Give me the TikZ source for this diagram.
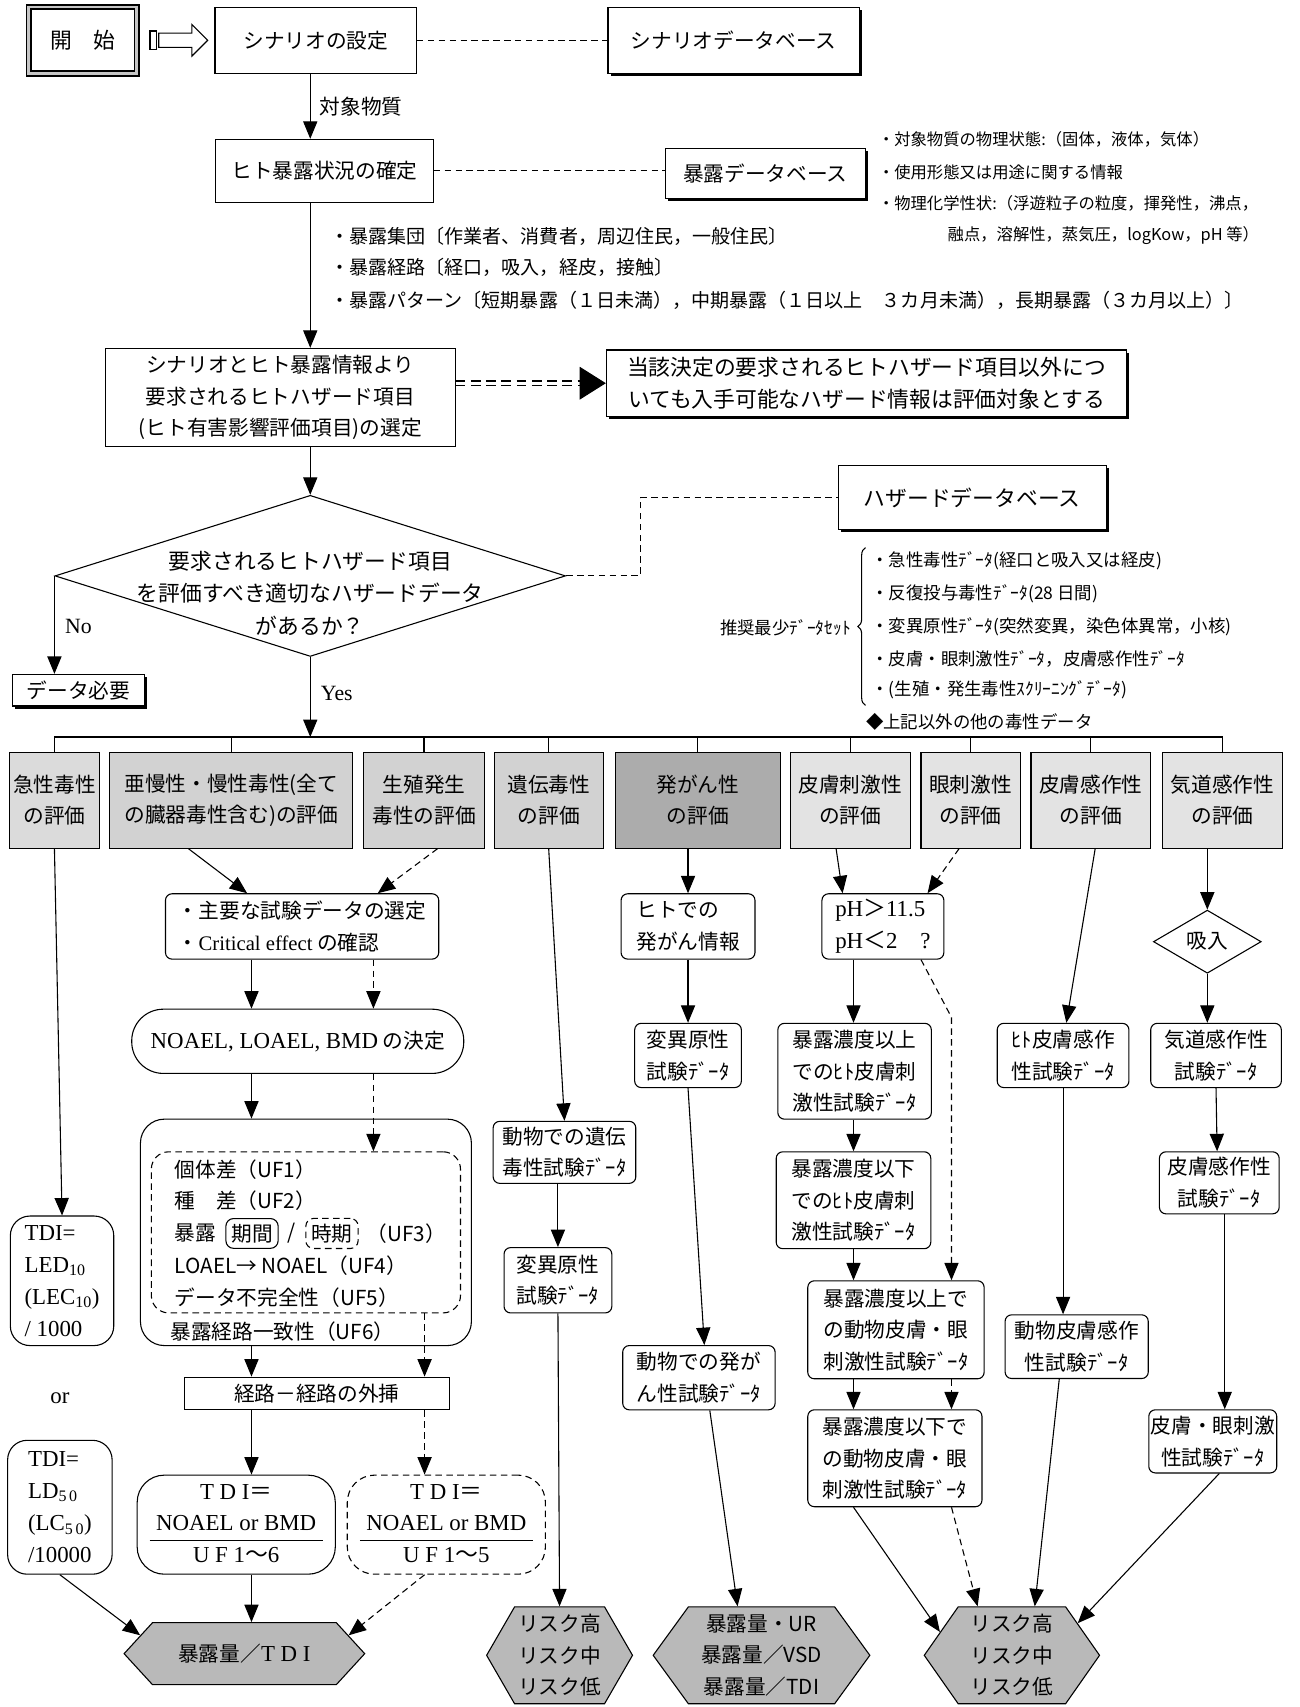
\documentclass[tikz,border=0pt]{standalone}
\usepackage{fontspec}
\setmainfont{Noto Sans CJK JP}
\newfontfamily\lat{Liberation Serif}
\newcommand\setfs[2]{\fontsize{#1}{#2}\selectfont}
\usetikzlibrary{positioning,arrows.meta,shapes.geometric,shapes.symbols,shapes.arrows,shadows,decorations.pathreplacing}

\begin{document}
\begin{tikzpicture}[x=1pt,y=-1pt,line width=1pt,
    >={Triangle[length=16pt,width=13pt]},
    font=\setfs{19}{29},
    dsh/.style={dash pattern=on 6pt off 4pt},
    wh/.style 2 args={minimum width=#1pt,minimum height=#2pt},
    sqbox/.style={draw,rectangle,inner sep=0pt,align=center},
    shadowbox/.style={sqbox,fill=white,drop shadow={shadow xshift=2.5pt,shadow yshift=-2.5pt,fill=black,opacity=1}},
    rbox/.style={sqbox,rounded corners=6pt},
    hexa/.style={draw,signal,signal to=west and east,inner sep=0pt,align=center,fill=gray!55},
    txt/.style={inner sep=0pt,anchor=west}]
  \useasboundingbox (0,0) rectangle (1194,1568);
  \coordinate (spine) at (285,0);
  \coordinate (bus) at (0,677);
  \coordinate (lnA) at (231,0);
  \coordinate (lnB) at (343,0);
  \coordinate (lnC) at (390,0);
  \coordinate (lnD) at (784,0);
  \coordinate (lnE) at (874,0);

  % scenario and exposure
  \node[sqbox,wh={99}{61},line width=1.6pt,double=gray!45,double distance=2.5pt,font=\setfs{20}{24}] (start) at (76,37) {開　始};
  \node[sqbox,wh={6}{17},fill=white,right=11pt of start] (gotail) {};
  \node[single arrow,draw,fill=white,inner sep=6pt,minimum height=45pt,single arrow head extend=8pt,right=1pt of gotail] (go) {};
  \node[sqbox,wh={185}{61}] (set) at (290,37) {シナリオの設定};
  \node[shadowbox,wh={231}{61}] (scendb) at (674,37) {シナリオデータベース};
  \node[sqbox,wh={200}{58}] (conf) at (298,157) {ヒト暴露状況の確定};
  \node[shadowbox,wh={184}{46}] (expdb) at (703,159) {暴露データベース};
  \draw[->] (set.south -| spine) -- (conf.north -| spine) node[midway,right=5pt] (tgt) {対象物質};
  \draw[dsh] (set.east) -- (scendb.west);
  \draw[dsh] (conf.east) -- (conf.east -| expdb.west);
  \foreach \i/\xx/\yy/\lbl in {1/806/128/{・対象物質の物理状態:（固体，液体，気体）},
      2/806/158/{・使用形態又は用途に関する情報},
      3/806/187/{・物理化学性状:（浮遊粒子の粒度，揮発性，沸点，},
      4/870/216/{融点，溶解性，蒸気圧，logKow，pH 等）}}
    \node[txt,font=\setfs{15}{18}] (phy\i) at (\xx,\yy) {\lbl};
  \foreach \i/\yy/\lbl in {1/217/{・暴露集団〔作業者、消費者，周辺住民，一般住民〕},
      2/246/{・暴露経路〔経口，吸入，経皮，接触〕},
      3/276/{・暴露パターン〔短期暴露（１日未満），中期暴露（１日以上　３カ月未満），長期暴露（３カ月以上）〕}}
    \node[txt,font=\setfs{17.5}{20}] (pat\i) at (303,\yy) {\lbl};

  % selection and decision
  \node[sqbox,wh={321}{90}] (sel) at (257.5,365) {シナリオとヒト暴露情報より\\要求されるヒトハザード項目\\(ヒト有害影響評価項目)の選定};
  \node[shadowbox,wh={478}{61},font=\setfs{20}{29}] (tou) at (796,352) {当該決定の要求されるヒトハザード項目以外につ\\いても入手可能なハザード情報は評価対象とする};
  \draw[->] (conf.south -| spine) -- (sel.north -| spine);
  \draw[double,double distance=3pt,dash pattern=on 9pt off 5pt] (sel.east |- tou.west) -- ([xshift=-22pt]tou.west);
  \draw[-{Triangle[length=24pt,width=30pt]}] ([xshift=-24pt]tou.west) -- (tou.west);
  \node[diamond,draw,wh={469}{148},inner sep=0pt] (dq) at (285,529) {};
  \node[align=center,font=\setfs{20}{30}] (dqtxt) at (285,545) {要求されるヒトハザード項目\\を評価すべき適切なハザードデータ\\があるか？};
  \draw[->] (sel.south -| spine) -- (dq.north);
  \node[shadowbox,wh={246}{59},font=\setfs{20}{24}] (hazdb) at (893,457) {ハザードデータベース};
  \draw[dsh] (dq.east) -- ++(68,0) |- (hazdb.west);
  \node[inner sep=0pt,anchor=east,font=\setfs{16}{20}] (recset) at (782,577) {推奨最少ﾃﾞｰﾀｾｯﾄ};
  \foreach \i/\yy/\lbl in {1/515/{・急性毒性ﾃﾞｰﾀ(経口と吸入又は経皮)},
      2/545/{・反復投与毒性ﾃﾞｰﾀ(28 日間)},
      3/576/{・変異原性ﾃﾞｰﾀ(突然変異，染色体異常，小核)},
      4/605/{・皮膚・眼刺激性ﾃﾞｰﾀ，皮膚感作性ﾃﾞｰﾀ},
      5/634/{・(生殖・発生毒性ｽｸﾘｰﾆﾝｸﾞﾃﾞｰﾀ)}}
    \node[txt,font=\setfs{16}{20}] (rs\i) at (800,\yy) {\lbl};
  \node[txt,font=\setfs{16}{20}] (other) at (795,663) {◆上記以外の他の毒性データ};
  \draw[decorate,decoration={brace,amplitude=7pt}] (795,648) -- (795,503);
  \node[shadowbox,wh={121}{29}] (nodata) at (72,634) {データ必要};
  \draw[->] (dq.west) -- (dq.west |- nodata.north) node[pos=0.52,right=6pt,font=\lat\setfs{20}{24}] (no) {No};
  \draw[->] (dq.south) -- (dq.south |- bus) node[pos=0.45,right=6pt,font=\lat\setfs{20}{24}] (yes) {Yes};

  % evaluation items
  \foreach \i/\xx/\w/\cc/\lbl in {1/50/82/28/{急性毒性\\の評価},
      2/212.5/223/35/{亜慢性・慢性毒性(全て\\の臓器毒性含む)の評価},
      3/389.5/111/35/{生殖発生\\毒性の評価},
      4/504/100/35/{遺伝毒性\\の評価},
      5/641/152/65/{発がん性\\の評価},
      6/781/110/22/{皮膚刺激性\\の評価},
      7/891.5/91/22/{眼刺激性\\の評価},
      8/1002/110/22/{皮膚感作性\\の評価},
      9/1123/110/22/{気道感作性\\の評価}}
    \node[sqbox,wh={\w}{88},fill=gray!\cc] (ev\i) at (\xx,735) {\lbl};
  \draw (ev1.north |- bus) -- (ev9.north |- bus);
  \foreach \i in {1,...,9}
    \draw (ev\i.north |- bus) -- (ev\i.north);

  % general toxicity
  \node[rbox,wh={251}{60},align=left] (crit) at (277.5,851) {・主要な試験データの選定\\・{\lat Critical effect} の確認};
  \draw[->] ([xshift=-39.5]ev2.south) -- ([xshift=-50.5]crit.north);
  \draw[->,dsh] ([xshift=12.5]ev3.south) -- ([xshift=69.5]crit.north);
  \node[sqbox,wh={305}{59},rounded corners=29pt] (noael) at (273.5,956.5) {{\lat\setfs{21}{29}NOAEL, LOAEL, BMD} の決定};
  \draw[->] (crit.south -| lnA) -- (noael.north -| lnA);
  \draw[->,dsh] (crit.south -| lnB) -- (noael.north -| lnB);
  \node[sqbox,wh={304}{208},rounded corners=22pt] (ufbox) at (281,1132) {};
  \node[sqbox,dsh,wh={284}{148},rounded corners=16pt] (ufin) at (281,1132) {};
  \draw[->] (noael.south -| lnA) -- (ufbox.north -| lnA);
  \draw[->,dsh] (noael.south -| lnB) -- (ufin.north -| lnB);
  \node[txt] (uf1) at (160,1074) {個体差（UF1）};
  \node[txt] (uf2) at (160,1103) {種　差（UF2）};
  \node[txt] (uf3) at (160,1133) {暴露};
  \node[draw,rounded corners=7pt,inner xsep=5pt,inner ysep=5pt,right=8pt of uf3] (kikan) {期間};
  \node[inner sep=0pt,right=8pt of kikan] (slash) {/};
  \node[draw,dsh,rounded corners=7pt,inner xsep=5pt,inner ysep=5pt,right=8pt of slash] (jiki) {時期};
  \node[inner sep=0pt,right=7pt of jiki] (uf3b) {（UF3）};
  \node[txt] (uf4) at (160,1163) {LOAEL→ NOAEL（UF4）};
  \node[txt] (uf5) at (160,1192) {データ不完全性（UF5）};
  \node[txt] (uf6) at (156,1223) {暴露経路一致性（UF6）};
  \node[sqbox,wh={243}{30}] (route) at (291,1280) {経路－経路の外挿};
  \draw[->] (ufbox.south -| lnA) -- (route.north -| lnA);
  \draw[->,dsh] (ufin.south -| lnC) -- (route.north -| lnC);
  \node[sqbox,wh={182}{91},rounded corners=25pt,font=\lat\setfs{21}{29}] (tdi1) at (217,1400.5)
    {\begin{tabular}{@{\hspace{6pt}}c@{\hspace{6pt}}}T D I{\rmfamily ＝}\\NOAEL or BMD\\\hline U F 1{\rmfamily ～}6\end{tabular}};
  \node[sqbox,dsh,wh={182}{91},rounded corners=25pt,font=\lat\setfs{21}{29}] (tdi2) at (410,1400.5)
    {\begin{tabular}{@{\hspace{6pt}}c@{\hspace{6pt}}}T D I{\rmfamily ＝}\\NOAEL or BMD\\\hline U F 1{\rmfamily ～}5\end{tabular}};
  \draw[->] (route.south -| lnA) -- (tdi1.north -| lnA);
  \draw[->,dsh] (route.south -| lnC) -- (tdi2.north -| lnC);

  % acute toxicity
  \node[sqbox,wh={95}{119},rounded corners=18pt,align=left,font=\lat\setfs{21}{29.5}] (led) at (57,1176.5)
    {TDI=\\LED\textsubscript{10}\\(LEC\textsubscript{10})\\/ 1000};
  \node[font=\lat\setfs{21}{24}] (ornode) at (55,1284) {or};
  \node[sqbox,wh={96}{123},rounded corners=18pt,align=left,font=\lat\setfs{21}{29.5}] (ld) at (55,1384.5)
    {TDI=\\LD\textsubscript{5\,0}\\(LC\textsubscript{5\,0})\\/10000};
  \draw[->] (ev1.south) -- (led.north);
  \node[hexa,wh={221}{57},signal pointer angle=95] (hex1) at (224.5,1519) {暴露量／{\lat\setfs{21}{24}T D I}};
  \draw[->] (ld.south) -- (hex1.170);
  \draw[->] (tdi1.south -| lnA) -- (hex1.north -| lnA);
  \draw[->,dsh] (tdi2.south -| lnC) -- (hex1.10);

  % genotoxicity
  \node[rbox,wh={131}{57}] (gen1) at (518.5,1058.5) {動物での遺伝\\毒性試験ﾃﾞｰﾀ};
  \node[rbox,wh={99}{60}] (gen2) at (512.5,1176) {変異原性\\試験ﾃﾞｰﾀ};
  \node[hexa,wh={134}{89},signal pointer angle=120] (hex2) at (514,1520.5) {リスク高\\リスク中\\リスク低};
  \draw[->] (ev4.south) -- (gen1.north);
  \draw[->] (gen2.north |- gen1.south) -- (gen2.north);
  \draw[->] (gen2.south) -- (hex2.north);

  % carcinogenicity
  \node[rbox,wh={123}{60},align=left] (hum) at (632,851) {ヒトでの\\発がん情報};
  \node[rbox,wh={98}{59}] (mut) at (632,969.5) {変異原性\\試験ﾃﾞｰﾀ};
  \node[rbox,wh={140}{59}] (anim) at (642,1265.5) {動物での発が\\ん性試験ﾃﾞｰﾀ};
  \node[hexa,wh={199}{89},signal pointer angle=108] (hexur) at (699.5,1520.5) {暴露量・UR\\暴露量／VSD\\暴露量／TDI};
  \draw[->] (ev5.south -| hum.north) -- (hum.north);
  \draw[->] (hum.south) -- (mut.north);
  \draw[->] (mut.south) -- ([xshift=5]anim.north);
  \draw[->] ([xshift=10]anim.south) -- ([xshift=-22]hexur.north);

  % skin and eye irritation
  \node[rbox,wh={112}{60},align=left,font=\lat\setfs{21}{29}] (ph) at (811,851) {pH{\rmfamily ＞}11.5\\pH{\rmfamily ＜}2\quad ?};
  \draw[->] ([xshift=-13]ev6.south) -- ([xshift=-37]ph.north);
  \draw[->,dsh] ([xshift=-10.5]ev7.south) -- ([xshift=41]ph.north);
  \node[rbox,wh={141}{88}] (hsk1) at (785,984) {暴露濃度以上\\でのﾋﾄ皮膚刺\\激性試験ﾃﾞｰﾀ};
  \node[rbox,wh={142}{89}] (hsk2) at (784,1102.5) {暴露濃度以下\\でのﾋﾄ皮膚刺\\激性試験ﾃﾞｰﾀ};
  \node[rbox,wh={162}{90}] (ask1) at (823,1221.5) {暴露濃度以上で\\の動物皮膚・眼\\刺激性試験ﾃﾞｰﾀ};
  \node[rbox,wh={160}{89}] (ask2) at (822,1339.5) {暴露濃度以下で\\の動物皮膚・眼\\刺激性試験ﾃﾞｰﾀ};
  \draw[->] (ph.south -| lnD) -- (hsk1.north -| lnD);
  \draw[->] (hsk1.south -| lnD) -- (hsk2.north -| lnD);
  \draw[->] (hsk2.south -| lnD) -- (ask1.north -| lnD);
  \draw[->,dsh] ([xshift=35]ph.south) -- ++(28,53) -- (ask1.north -| lnE);
  \draw[->] (ask1.south -| lnD) -- (ask2.north -| lnD);
  \draw[->,dsh] (ask1.south -| lnE) -- (ask2.north -| lnE);
  \node[hexa,wh={161}{89},signal pointer angle=110] (hex3) at (929.5,1520.5) {リスク高\\リスク中\\リスク低};
  \draw[->] (ask2.south -| lnD) -- (hex3.162);
  \draw[->,dsh] (ask2.south -| lnE) -- ([xshift=-31.5]hex3.north);

  % sensitisation
  \node[rbox,wh={121}{59}] (hsn) at (976.5,969.5) {ﾋﾄ皮膚感作\\性試験ﾃﾞｰﾀ};
  \node[rbox,wh={131.5}{58.5}] (asn) at (989,1237) {動物皮膚感作\\性試験ﾃﾞｰﾀ};
  \draw[->] ([xshift=4]ev8.south) -- ([xshift=3]hsn.north);
  \draw[->] (hsn.south) -- (hsn.south |- asn.north);
  \draw[->] ([xshift=-16]asn.south) -- ([xshift=21]hex3.north);
  \node[diamond,draw,wh={99}{58},inner sep=0pt] (kyu) at (1109,865) {吸入};
  \node[rbox,wh={120}{59}] (airt) at (1117,969.5) {気道感作性\\試験ﾃﾞｰﾀ};
  \node[rbox,wh={110}{57}] (skt) at (1120,1086.5) {皮膚感作性\\試験ﾃﾞｰﾀ};
  \node[rbox,wh={117.5}{58}] (eye) at (1114,1324) {皮膚・眼刺激\\性試験ﾃﾞｰﾀ};
  \draw[->] (kyu.north |- ev9.south) -- (kyu.north);
  \draw[->] (kyu.south) -- (kyu.south |- airt.north);
  \draw[->] (airt.south) -- ([xshift=-2]skt.north);
  \draw[->] ([xshift=5]skt.south) -- ([xshift=5]skt.south |- eye.north);
  \draw[->] ([xshift=6]eye.south) -- (hex3.26);
\end{tikzpicture}
\end{document}
